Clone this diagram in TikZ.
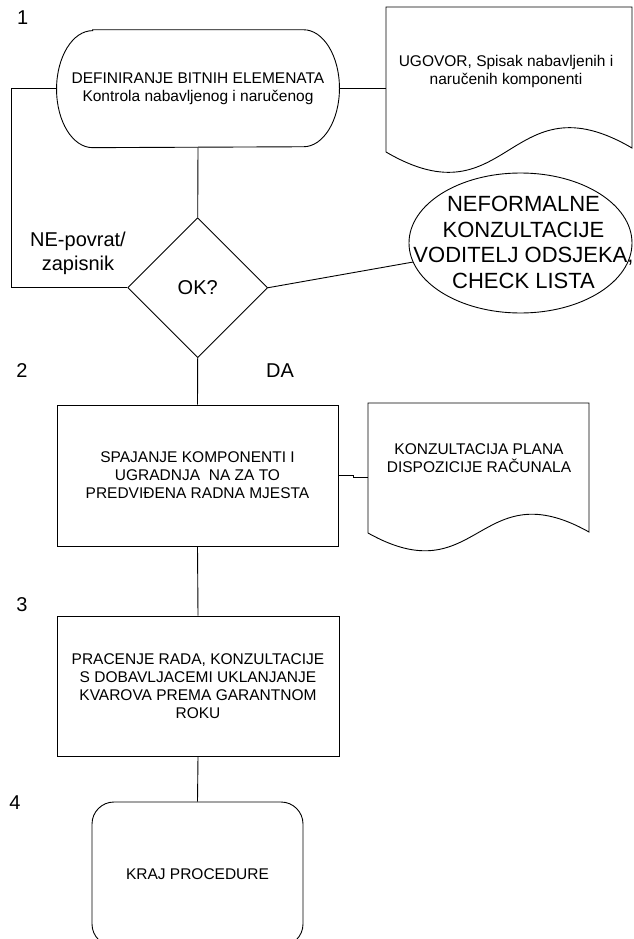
\documentclass[tikz,border=0pt]{standalone}
\usepackage{fontspec}
\setmainfont{Liberation Sans}
\usetikzlibrary{shapes.geometric}
\begin{document}
\begin{tikzpicture}[x=1pt,y=-1pt,line width=0.9pt,
  txt/.style={font=\fontsize{15.5}{18}\selectfont,align=center},
  big/.style={font=\fontsize{20}{24}\selectfont,align=center},
  huge/.style={font=\fontsize{22}{25.5}\selectfont,align=center},
  boxnode/.style={draw,txt,inner sep=0pt},
  conn/.style={line width=0.9pt}]
\useasboundingbox (0,0) rectangle (633,939);
\clip (0,0) rectangle (633,939);

% step numbers
\node[big] (n1) at (22.7,18) {1};
\node[big] (n2) at (22,371) {2};
\node[big] (n3) at (22,605) {3};
\node[big] (n4) at (15,803) {4};

% terminal (stadium)
\node[txt,minimum width=282pt,minimum height=117pt,inner sep=0pt] (def) at (198,88.7)
  {DEFINIRANJE BITNIH ELEMENATA\\Kontrola nabavljenog i naručenog};
\draw ([xshift=36pt]def.north west) -- ([xshift=-36pt]def.north east)
  arc[start angle=90,end angle=-90,x radius=36pt,y radius=58.5pt]
  -- ([xshift=36pt]def.south west)
  arc[start angle=270,end angle=90,x radius=36pt,y radius=58.5pt] -- cycle;

% document 1
\draw (386,152) -- (386,7) -- (632,7) -- (632,148)
  .. controls (509,76) and (509,224) .. (386,152);
\node[txt] (doc1) at (506,71.5) {UGOVOR, Spisak nabavljenih i\\naručenih komponenti};
\coordinate (d1w) at (386,88.7);

% decision
\node[diamond,draw,minimum width=140pt,minimum height=140pt,inner sep=0pt,big] (ok) at (197.7,287.7) {OK?};

% ellipse
\node[ellipse,draw,minimum width=223pt,minimum height=140pt,inner sep=0pt] (neo) at (520.5,243) {};
\node[huge] (neotxt) at (523.5,242.5) {NEFORMALNE\\KONZULTACIJE\\VODITELJ ODSJEKA,\\CHECK LISTA};

% labels
\node[big] (ne) at (78,253) {NE-povrat/\\zapisnik};
\node[big] (da) at (280,371) {DA};

% process 2
\node[boxnode,minimum width=281pt,minimum height=141pt] (sp) at (197.5,475.5)
  {SPAJANJE KOMPONENTI I\\UGRADNJA~ NA ZA TO\\PREDVIĐENA RADNA MJESTA};

% document 2
\draw (368,533) -- (368,403) -- (589,403) -- (589,532)
  .. controls (478.5,470) and (478.5,595) .. (368,533);
\node[txt] (doc2) at (479,458) {KONZULTACIJA PLANA\\DISPOZICIJE RAČUNALA};
\coordinate (d2w) at (368,477.3);

% process 3
\node[boxnode,minimum width=282pt,minimum height=140pt] (pr) at (198,686)
  {PRACENJE RADA, KONZULTACIJE\\S DOBAVLJACEMI UKLANJANJE\\KVAROVA PREMA GARANTNOM\\ROKU};

% end
\node[boxnode,rounded corners=22pt,minimum width=211pt,minimum height=144pt] (kraj) at (197.5,874)
  {KRAJ PROCEDURE};

% connectors
\coordinate (loop) at (11.5,88.7);
\draw[conn] (def.west) -- (loop) |- (ok.west);
\draw[conn] (def.east) -- (d1w);
\draw[conn] (def.south) -- (ok.north);
\draw[conn] (ok.east) -- (neo);
\draw[conn] (ok.south) -- (sp.north);
\draw[conn] (sp.east) -- ++(15,0) |- (d2w);
\draw[conn] (sp.south) -- (pr.north);
\draw[conn] (pr.south) -- (kraj.north);
\end{tikzpicture}
\end{document}
